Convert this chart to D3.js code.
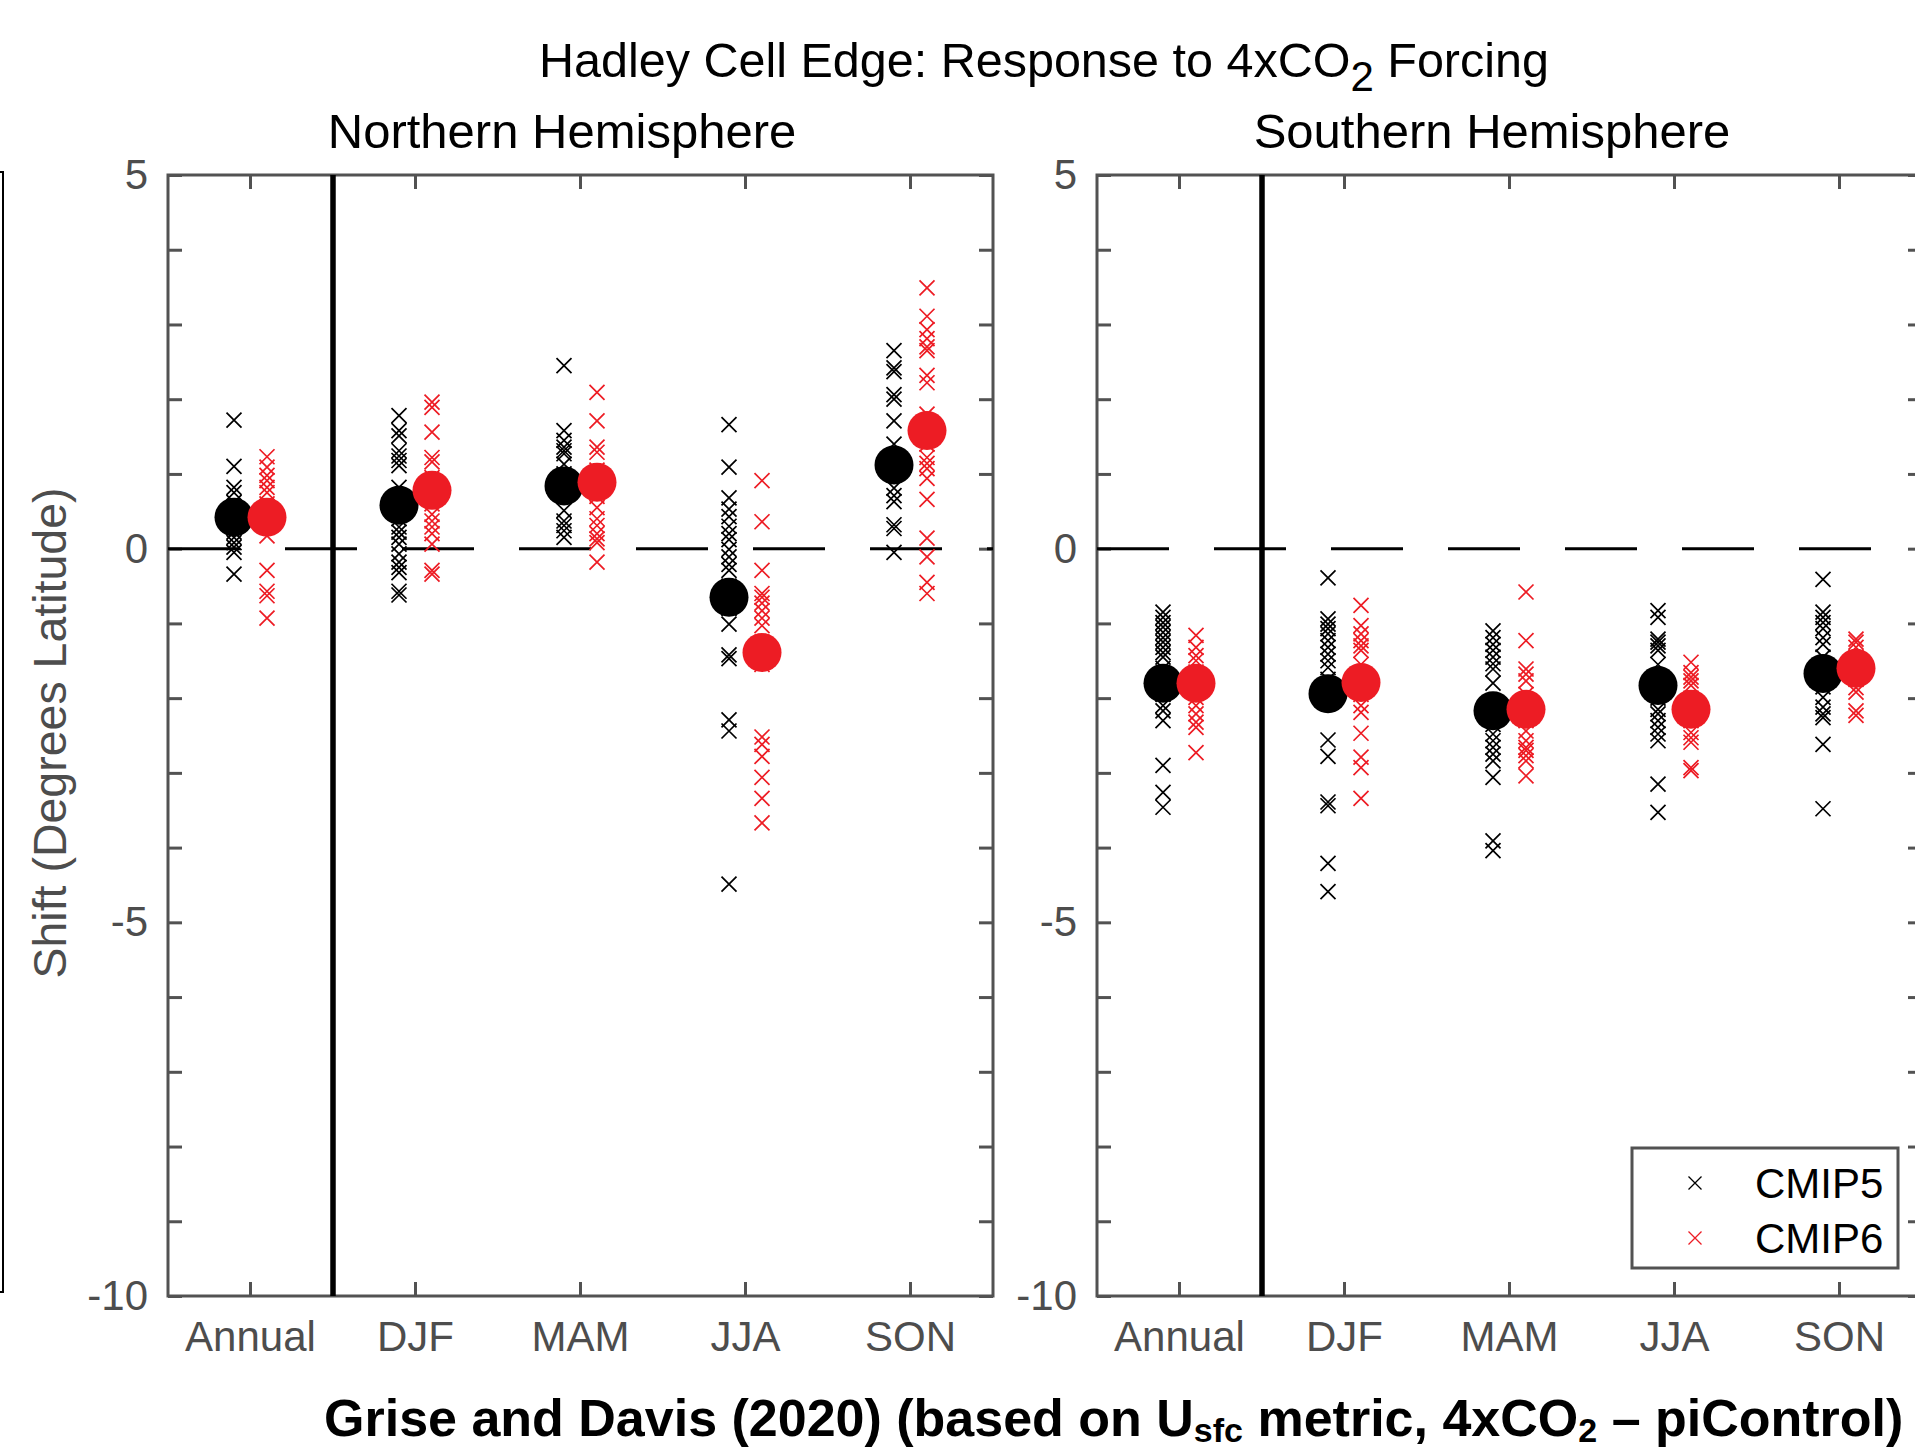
<!DOCTYPE html>
<html>
<head>
<meta charset="utf-8">
<script src="https://cdn.jsdelivr.net/npm/d3@7"></script>
<style>
  body { margin: 0; background: #fff; }
  svg { display: block; font-family: "Liberation Sans", Arial, Helvetica, sans-serif; }
</style>
</head>
<body>
<svg id="chart" width="1915" height="1448"></svg>
<script>
const seasons = ["Annual", "DJF", "MAM", "JJA", "SON"];
const yTicks = [-10, -9, -8, -7, -6, -5, -4, -3, -2, -1, 0, 1, 2, 3, 4, 5];
const yTickLabels = [5, 0, -5, -10];

// individual model shifts, one list per season
const nhCmip5 = [
  [1.72, 1.10, 0.82, 0.75, 0.62, 0.50, 0.40, 0.30, 0.22, 0.15, 0.08, 0.02, -0.05, -0.34],
  [1.78, 1.58, 1.51, 1.31, 1.24, 1.18, 1.11, 0.82, 0.70, 0.55, 0.40, 0.29, 0.22, 0.15, 0.06, -0.07, -0.18, -0.25, -0.32, -0.57, -0.62],
  [2.45, 1.58, 1.45, 1.36, 1.31, 1.27, 1.13, 1.00, 0.84, 0.70, 0.51, 0.37, 0.31, 0.24, 0.15],
  [1.66, 1.09, 0.68, 0.53, 0.43, 0.30, 0.20, 0.12, -0.01, -0.11, -0.21, -0.29, -0.50, -0.80, -1.01, -1.42, -1.47, -2.29, -2.44, -4.49],
  [2.65, 2.42, 2.37, 2.06, 2.00, 1.71, 1.40, 1.25, 1.00, 0.81, 0.71, 0.63, 0.32, 0.27, -0.05]
];
const nhCmip6 = [
  [1.23, 1.09, 0.98, 0.91, 0.82, 0.75, 0.60, 0.42, 0.30, 0.17, -0.29, -0.57, -0.63, -0.93],
  [1.96, 1.89, 1.56, 1.22, 1.16, 0.95, 0.78, 0.60, 0.46, 0.37, 0.29, 0.20, 0.06, -0.29, -0.34],
  [2.09, 1.71, 1.36, 1.29, 1.05, 0.89, 0.70, 0.55, 0.40, 0.31, 0.20, 0.13, 0.08, -0.18],
  [0.91, 0.36, -0.29, -0.60, -0.65, -0.73, -0.83, -0.93, -1.03, -1.25, -1.55, -2.52, -2.62, -2.78, -3.06, -3.34, -3.67],
  [3.49, 3.11, 2.93, 2.81, 2.70, 2.65, 2.32, 2.22, 1.80, 1.40, 1.22, 1.14, 1.07, 0.94, 0.66, 0.14, -0.11, -0.45, -0.60]
];
const shCmip5 = [
  [-0.85, -0.92, -0.99, -1.05, -1.12, -1.19, -1.25, -1.32, -1.39, -1.45, -1.60, -1.80, -1.95, -2.10, -2.17, -2.30, -2.90, -3.26, -3.46],
  [-0.39, -0.94, -1.01, -1.07, -1.14, -1.23, -1.32, -1.41, -1.50, -1.59, -1.75, -1.94, -2.56, -2.78, -3.39, -3.44, -4.21, -4.59],
  [-1.10, -1.19, -1.28, -1.36, -1.45, -1.54, -1.61, -1.80, -2.17, -2.35, -2.48, -2.57, -2.66, -2.75, -2.84, -3.06, -3.91, -4.04],
  [-0.83, -0.92, -1.21, -1.25, -1.30, -1.36, -1.55, -1.83, -2.00, -2.15, -2.21, -2.30, -2.39, -2.48, -2.57, -3.15, -3.53],
  [-0.41, -0.85, -0.92, -0.99, -1.07, -1.19, -1.28, -1.45, -1.67, -1.85, -1.99, -2.12, -2.21, -2.26, -2.62, -3.48]
];
const shCmip6 = [
  [-1.16, -1.32, -1.43, -1.50, -1.65, -1.80, -1.99, -2.10, -2.21, -2.32, -2.39, -2.73],
  [-0.76, -1.03, -1.14, -1.23, -1.30, -1.36, -1.55, -1.79, -1.95, -2.10, -2.19, -2.47, -2.79, -2.93, -3.34],
  [-0.58, -1.23, -1.61, -1.68, -1.77, -1.95, -2.15, -2.30, -2.44, -2.57, -2.66, -2.70, -2.77, -2.84, -3.04],
  [-1.52, -1.66, -1.72, -1.77, -1.83, -2.00, -2.15, -2.30, -2.46, -2.53, -2.59, -2.93, -2.97],
  [-1.21, -1.25, -1.32, -1.45, -1.60, -1.75, -1.86, -1.92, -2.17, -2.23]
];

// multi-model means (big dots)
const nhMean5 = [0.42, 0.58, 0.84, -0.65, 1.12];
const nhMean6 = [0.42, 0.78, 0.89, -1.39, 1.58];
const shMean5 = [-1.80, -1.94, -2.17, -1.83, -1.67];
const shMean6 = [-1.80, -1.79, -2.15, -2.15, -1.60];

const RED = "#ed1c24";
const AXIS = "#525252";
const svg = d3.select("#chart");

const yTop = 175, yBottom = 1296;
const y = d3.scaleLinear().domain([-10, 5]).range([yBottom, yTop]);

const panels = [
  { x0: 168, x1: 993, title: "Northern Hemisphere", titleX: 562, c5: nhCmip5, c6: nhCmip6, m5: nhMean5, m6: nhMean6 },
  { x0: 1097, x1: 1922, title: "Southern Hemisphere", titleX: 1492, c5: shCmip5, c6: shCmip6, m5: shMean5, m6: shMean6 }
];

// bit of the neighbouring panel frame cut off at left edge
svg.append("rect").attr("x", -200).attr("y", 172).attr("width", 203).attr("height", 1120)
  .attr("fill", "none").attr("stroke", "#000").attr("stroke-width", 2);

function cross(g, cx, cy, h, color, sw) {
  g.append("path")
    .attr("d", `M${cx - h},${cy - h}L${cx + h},${cy + h}M${cx - h},${cy + h}L${cx + h},${cy - h}`)
    .attr("stroke", color).attr("stroke-width", sw).attr("fill", "none");
}

panels.forEach((p, pi) => {
  const x = d3.scaleBand().domain(seasons).range([p.x0, p.x1]);
  const bw = x.bandwidth();
  const cx = s => x(s) + bw / 2;
  const g = svg.append("g");

  // axes: inward ticks on all four sides
  g.append("g").attr("transform", `translate(${p.x0},0)`)
    .call(d3.axisLeft(y).tickValues(yTicks).tickSizeInner(-14).tickSizeOuter(0).tickPadding(20)
      .tickFormat(d => yTickLabels.includes(d) ? d : ""));
  g.append("g").attr("transform", `translate(${p.x1},0)`)
    .call(d3.axisRight(y).tickValues(yTicks).tickSizeInner(-14).tickSizeOuter(0).tickFormat(""));
  g.append("g").attr("transform", `translate(0,${yBottom})`)
    .call(d3.axisBottom(x).tickSizeInner(-14).tickSizeOuter(0).tickPadding(25));
  g.append("g").attr("transform", `translate(0,${yTop})`)
    .call(d3.axisTop(x).tickSizeInner(-14).tickSizeOuter(0).tickFormat(""));
  g.selectAll(".domain").remove();
  g.selectAll(".tick line").attr("stroke", AXIS).attr("stroke-width", 3);
  g.selectAll(".tick text").attr("fill", "#4d4d4d").attr("font-size", 42)
    .attr("font-family", "'Liberation Sans', Arial, Helvetica, sans-serif");

  g.append("rect").attr("x", p.x0).attr("y", yTop).attr("width", p.x1 - p.x0).attr("height", yBottom - yTop)
    .attr("fill", "none").attr("stroke", AXIS).attr("stroke-width", 3);

  // zero line and annual/seasonal separator
  g.append("line").attr("x1", p.x0).attr("x2", p.x1).attr("y1", y(0)).attr("y2", y(0))
    .attr("stroke", "#000").attr("stroke-width", 3).attr("stroke-dasharray", "72 45");
  g.append("line").attr("x1", x(seasons[1])).attr("x2", x(seasons[1])).attr("y1", yTop).attr("y2", yBottom)
    .attr("stroke", "#000").attr("stroke-width", 5.5);

  const off = bw * 0.1;
  seasons.forEach((s, i) => {
    p.c5[i].forEach(v => cross(g, cx(s) - off, y(v), 7.5, "#000", 1.7));
    p.c6[i].forEach(v => cross(g, cx(s) + off, y(v), 7.5, RED, 1.7));
  });
  seasons.forEach((s, i) => {
    g.append("circle").attr("cx", cx(s) - off).attr("cy", y(p.m5[i])).attr("r", 19.5).attr("fill", "#000");
    g.append("circle").attr("cx", cx(s) + off).attr("cy", y(p.m6[i])).attr("r", 19.5).attr("fill", RED);
  });

  svg.append("text").attr("x", p.titleX).attr("y", 148).attr("text-anchor", "middle")
    .attr("font-size", 49).attr("fill", "#000").text(p.title);
});

// main title
const t = svg.append("text").attr("x", 1044).attr("y", 77).attr("text-anchor", "middle")
  .attr("font-size", 48.5).attr("fill", "#000");
t.append("tspan").text("Hadley Cell Edge: Response to 4xCO");
t.append("tspan").attr("font-size", 42).attr("dy", 14).text("2");
t.append("tspan").attr("dy", -14).text(" Forcing");

// y label
svg.append("text").attr("transform", "translate(50,733) rotate(-90)").attr("text-anchor", "middle")
  .attr("dy", "0.35em").attr("font-size", 46.5).attr("fill", "#4d4d4d").text("Shift (Degrees Latitude)");

// legend
const lg = svg.append("g");
lg.append("rect").attr("x", 1632).attr("y", 1148).attr("width", 266).attr("height", 120)
  .attr("fill", "#fff").attr("stroke", AXIS).attr("stroke-width", 3);
[["CMIP5", "#000", 1183], ["CMIP6", RED, 1238]].forEach(([name, col, ly]) => {
  cross(lg, 1695, ly, 6.5, col, 1.3);
  lg.append("text").attr("x", 1755).attr("y", ly).attr("dy", "0.36em")
    .attr("font-size", 42).attr("fill", "#000").text(name);
});

// source note
const n = svg.append("text").attr("x", 324).attr("y", 1436).attr("font-size", 52)
  .attr("font-weight", "bold").attr("fill", "#000");
n.append("tspan").text("Grise and Davis (2020) (based on U");
n.append("tspan").attr("font-size", 34).attr("dy", 6).text("sfc");
n.append("tspan").attr("dy", -6).text(" metric, 4xCO");
n.append("tspan").attr("font-size", 34).attr("dy", 6).text("2");
n.append("tspan").attr("dy", -6).text(" \u2013 piControl)");
</script>
</body>
</html>
